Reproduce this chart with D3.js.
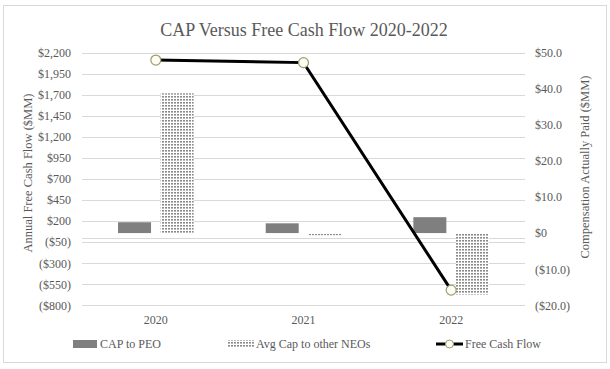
<!DOCTYPE html>
<html><head><meta charset="utf-8">
<script src="https://cdn.jsdelivr.net/npm/d3@7"></script>
<style>html,body{margin:0;padding:0;background:#fff;}svg{display:block;font-family:"Liberation Serif","Times New Roman",serif;}</style>
</head><body>
<svg id="c" width="610" height="369"></svg>
<script>
const years = ["2020", "2021", "2022"];
const capToPEO = [3.0, 2.7, 4.4];
const avgCapOtherNEOs = [38.7, -0.6, -17.0];
const freeCashFlow = [2110, 2080, -620];
const leftTicks = [2200, 1950, 1700, 1450, 1200, 950, 700, 450, 200, -50, -300, -550, -800];
const rightTicks = [50, 40, 30, 20, 10, 0, -10, -20];

const svg = d3.select("#c");
const plot = {l: 82, r: 525, t: 52.5, b: 305.3};
const textCol = "#595959";

const defs = svg.append("defs");
const pat = defs.append("pattern").attr("id", "dots").attr("patternUnits", "userSpaceOnUse")
  .attr("width", 3).attr("height", 3);
pat.append("rect").attr("width", 3).attr("height", 3).attr("fill", "#fff");
pat.append("rect").attr("x", 0).attr("y", 0).attr("width", 2).attr("height", 1.6).attr("fill", "#8a8a8a");

svg.append("rect").attr("x", 3.5).attr("y", 5.5).attr("width", 603).attr("height", 357)
  .attr("fill", "#fff").attr("stroke", "#d9d9d9");

const x = d3.scaleBand().domain(years).range([plot.l, plot.r]);
const yL = d3.scaleLinear().domain([-800, 2200]).range([plot.b, plot.t]);
const yR = d3.scaleLinear().domain([-20, 50]).range([plot.b, plot.t]);

// gridlines
svg.append("g").selectAll("line").data(leftTicks).join("line")
  .attr("x1", plot.l).attr("x2", plot.r)
  .attr("y1", d => Math.round(yL(d)) + 0.5).attr("y2", d => Math.round(yL(d)) + 0.5)
  .attr("stroke", "#d9d9d9").attr("stroke-width", 1);
// category axis line at 0 of primary axis
svg.append("line").attr("x1", plot.l).attr("x2", plot.r)
  .attr("y1", Math.round(yL(0)) + 0.5).attr("y2", Math.round(yL(0)) + 0.5)
  .attr("stroke", "#d9d9d9");

// left axis
const axL = svg.append("g").attr("transform", `translate(${plot.l},0)`)
  .call(d3.axisLeft(yL).tickValues(leftTicks).tickSize(0).tickPadding(11)
    .tickFormat(d => d < 0 ? "($" + d3.format(",")(-d) + ")" : "$" + d3.format(",")(d)));
axL.select(".domain").remove();
axL.selectAll("text").attr("fill", textCol).attr("font-size", 12).attr("font-family", "Liberation Serif");

// right axis
const axR = svg.append("g").attr("transform", `translate(${plot.r},0)`)
  .call(d3.axisRight(yR).tickValues(rightTicks).tickSize(0).tickPadding(10)
    .tickFormat(d => d === 0 ? "$0" : d < 0 ? "($" + d3.format(".1f")(-d) + ")" : "$" + d3.format(".1f")(d)));
axR.select(".domain").remove();
axR.selectAll("text").attr("fill", textCol).attr("font-size", 12).attr("font-family", "Liberation Serif");

// category labels
svg.append("g").selectAll("text").data(years).join("text")
  .attr("x", d => x(d) + x.bandwidth() / 2).attr("y", 324)
  .attr("text-anchor", "middle").attr("fill", textCol).attr("font-size", 12).text(d => d);

// bars
const bw = 33, off = 21.3;
svg.append("g").selectAll("rect").data(years).join("rect")
  .attr("x", (d, i) => x(d) + x.bandwidth() / 2 - off - bw / 2)
  .attr("width", bw)
  .attr("y", (d, i) => yR(Math.max(0, capToPEO[i])))
  .attr("height", (d, i) => Math.abs(yR(capToPEO[i]) - yR(0)))
  .attr("fill", "#7f7f7f");
svg.append("g").selectAll("rect").data(years).join("rect")
  .attr("x", (d, i) => x(d) + x.bandwidth() / 2 + off - bw / 2)
  .attr("width", bw)
  .attr("y", (d, i) => yR(Math.max(0, avgCapOtherNEOs[i])))
  .attr("height", (d, i) => Math.abs(yR(avgCapOtherNEOs[i]) - yR(0)))
  .attr("fill", "url(#dots)");

// line
const pts = years.map((d, i) => [x(d) + x.bandwidth() / 2, yL(freeCashFlow[i])]);
svg.append("path").attr("d", d3.line()(pts)).attr("fill", "none")
  .attr("stroke", "#000").attr("stroke-width", 3);
svg.append("g").selectAll("circle").data(pts).join("circle")
  .attr("cx", d => d[0]).attr("cy", d => d[1]).attr("r", 5)
  .attr("fill", "#fdfdf3").attr("stroke", "#9c9c6c").attr("stroke-width", 1.2);

// title
svg.append("text").attr("x", 304).attr("y", 36).attr("text-anchor", "middle")
  .attr("fill", textCol).attr("font-size", 18).text("CAP Versus Free Cash Flow 2020-2022");

// axis titles
svg.append("text").attr("transform", "translate(32,173) rotate(-90)").attr("text-anchor", "middle")
  .attr("fill", textCol).attr("font-size", 12.5).text("Annual Free Cash Flow ($MM)");
svg.append("text").attr("transform", "translate(589,167) rotate(-90)").attr("text-anchor", "middle")
  .attr("fill", textCol).attr("font-size", 12.5).text("Compensation Actually Paid ($MM)");

// legend
const ly = 344;
svg.append("rect").attr("x", 73).attr("y", ly - 4).attr("width", 24).attr("height", 8).attr("fill", "#7f7f7f");
svg.append("text").attr("x", 100).attr("y", ly + 4).attr("fill", textCol).attr("font-size", 12).text("CAP to PEO");
svg.append("rect").attr("x", 228).attr("y", ly - 4).attr("width", 26).attr("height", 8).attr("fill", "url(#dots)");
svg.append("text").attr("x", 256).attr("y", ly + 4).attr("fill", textCol).attr("font-size", 12).text("Avg Cap to other NEOs");
svg.append("line").attr("x1", 436).attr("x2", 463).attr("y1", ly).attr("y2", ly).attr("stroke", "#000").attr("stroke-width", 3);
svg.append("circle").attr("cx", 449.5).attr("cy", ly).attr("r", 4).attr("fill", "#fdfdf3").attr("stroke", "#9c9c6c");
svg.append("text").attr("x", 465).attr("y", ly + 4).attr("fill", textCol).attr("font-size", 12).text("Free Cash Flow");
</script>
</body></html>
